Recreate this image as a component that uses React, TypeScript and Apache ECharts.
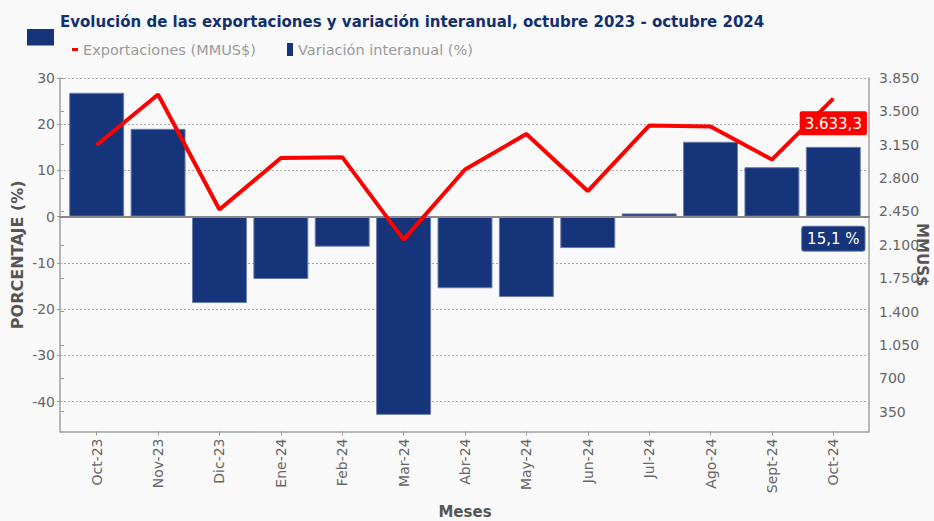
import React, { useEffect, useRef } from "react";
import * as echarts from "echarts";

const months = ["Oct-23", "Nov-23", "Dic-23", "Ene-24", "Feb-24", "Mar-24", "Abr-24", "May-24", "Jun-24", "Jul-24", "Ago-24", "Sept-24", "Oct-24"];
const variacion = [26.8, 19.0, -18.7, -13.5, -6.5, -42.9, -15.5, -17.4, -6.8, 0.7, 16.2, 10.7, 15.1];
const exportaciones = [3147, 3677, 2470, 3010, 3020, 2155, 2890, 3262, 2664, 3351, 3341, 2994, 3633.3];
const leftTicks = { min: -40, max: 30, interval: 10 };
const rightTicks = { min: 350, max: 3850, interval: 350 };

const FONT = "DejaVu Sans";
const NAVY = "#15347a";
const RED = "#ff0000";

function thousands(v: number): string {
  return String(Math.round(v)).replace(/\B(?=(\d{3})+(?!\d))/g, ".");
}
function esNumber(v: number): string {
  const [i, d] = v.toFixed(1).split(".");
  return i.replace(/\B(?=(\d{3})+(?!\d))/g, ".") + "," + d;
}

export default function App() {
  const ref = useRef<HTMLDivElement>(null);
  useEffect(() => {
    if (!ref.current) return;
    const chart = echarts.init(ref.current, null, { renderer: "svg" });
    const last = months.length - 1;
    const hiddenAxis = { show: false };
    const g = { outerBoundsMode: "none", containLabel: false };
    const option: any = {
      animation: false,
      backgroundColor: "#f9f9f9",
      textStyle: { fontFamily: FONT },
      title: {
        text: "Evolución de las exportaciones y variación interanual, octubre 2023 - octubre 2024",
        left: 60,
        top: 14,
        padding: 0,
        textStyle: { fontFamily: FONT, fontSize: 15, fontWeight: "bold", color: "#12306e" },
      },
      graphic: [
        { type: "rect", shape: { x: 27, y: 29, width: 27, height: 16.5 }, style: { fill: NAVY } },
      ],
      legend: [
        {
          data: ["Exportaciones (MMUS$)"],
          left: 72,
          top: 42,
          padding: 0,
          icon: "rect",
          itemWidth: 6,
          itemHeight: 3,
          selectedMode: false,
          itemStyle: { borderWidth: 0 },
          textStyle: { color: "#999", fontSize: 14.5, fontFamily: FONT },
        },
        {
          data: ["Variación interanual (%)"],
          left: 287,
          top: 42,
          padding: 0,
          icon: "rect",
          itemWidth: 6,
          itemHeight: 13,
          selectedMode: false,
          itemStyle: { borderWidth: 0 },
          textStyle: { color: "#999", fontSize: 14.5, fontFamily: FONT },
        },
      ],
      grid: [
        { left: 66, right: 70, top: 78, bottom: 89.5, ...g },
        { left: 60, right: 65, top: 78, bottom: 89.5, ...g },
        { left: 60, right: 65, top: 78, bottom: 119.3, ...g },
        { left: 60, right: 65, top: 78, bottom: 109.3, ...g },
      ],
      xAxis: [
        {
          gridIndex: 0,
          type: "category",
          data: months,
          boundaryGap: true,
          axisLine: { show: false, onZero: false },
          axisTick: { show: true, alignWithLabel: true, length: 4, lineStyle: { color: "#999" } },
          axisLabel: { rotate: 90, margin: 7, color: "#666", fontSize: 14, fontFamily: FONT },
          name: "Meses",
          nameLocation: "middle",
          nameGap: 73,
          nameTextStyle: { color: "#555", fontSize: 15, fontWeight: "bold", fontFamily: FONT },
        },
        {
          gridIndex: 1,
          type: "value",
          min: 0,
          max: 1,
          axisLine: { show: true, onZero: false, lineStyle: { color: "#a0a0a0", width: 1.5 } },
          axisTick: { show: false },
          axisLabel: { show: false },
          splitLine: { show: false },
        },
        {
          gridIndex: 2,
          type: "value",
          min: 0,
          max: 1,
          z: 5,
          axisLine: { show: true, onZero: true, lineStyle: { color: "#888", width: 2 } },
          axisTick: { show: false },
          axisLabel: { show: false },
          splitLine: { show: false },
        },
        { gridIndex: 3, type: "value", min: 0, max: 1, ...hiddenAxis },
      ],
      yAxis: [
        { gridIndex: 0, type: "value", min: -46.5, max: 30, ...hiddenAxis },
        { gridIndex: 0, type: "value", min: 142, max: 3850, position: "right", ...hiddenAxis },
        {
          gridIndex: 1,
          type: "value",
          min: 0,
          max: 1,
          position: "left",
          axisLine: { show: true, lineStyle: { color: "#a0a0a0", width: 1.5 } },
          axisTick: { show: false },
          axisLabel: { show: false },
          splitLine: { show: false },
          name: "PORCENTAJE (%)",
          nameLocation: "middle",
          nameGap: 35,
          nameRotate: 90,
          nameTextStyle: { color: "#555", fontSize: 16, fontWeight: "bold", fontFamily: FONT },
        },
        {
          gridIndex: 1,
          type: "value",
          min: 0,
          max: 1,
          position: "right",
          axisLine: { show: true, lineStyle: { color: "#a0a0a0", width: 1.5 } },
          axisTick: { show: false },
          axisLabel: { show: false },
          splitLine: { show: false },
          name: "MMUS$",
          nameLocation: "middle",
          nameGap: 45,
          nameRotate: -90,
          nameTextStyle: { color: "#555", fontSize: 15, fontWeight: "bold", fontFamily: FONT },
        },
        {
          gridIndex: 2,
          type: "value",
          min: leftTicks.min,
          max: leftTicks.max,
          interval: leftTicks.interval,
          position: "left",
          axisLine: { show: false },
          axisTick: { show: true, length: 3, lineStyle: { color: "#999" } },
          axisLabel: { margin: 5, color: "#666", fontSize: 14, fontFamily: FONT },
          splitLine: { show: true, lineStyle: { color: "#aaa", width: 1, type: [2, 2] } },
        },
        {
          gridIndex: 3,
          type: "value",
          min: rightTicks.min,
          max: rightTicks.max,
          interval: rightTicks.interval,
          position: "right",
          axisLine: { show: false },
          axisTick: { show: true, length: 4, lineStyle: { color: "#999" } },
          axisLabel: { margin: 10, color: "#666", fontSize: 14, fontFamily: FONT, formatter: (v: number) => thousands(v) },
          splitLine: { show: false },
        },
      ],
      series: [
        {
          name: "Variación interanual (%)",
          type: "bar",
          xAxisIndex: 0,
          yAxisIndex: 0,
          barCategoryGap: "10.5%",
          itemStyle: { color: NAVY, borderColor: "#6a7caa", borderWidth: 1 },
          z: 2,
          data: variacion.map((v, i) =>
            i === last
              ? {
                  value: v,
                  label: {
                    show: true,
                    position: "bottom",
                    distance: 10,
                    formatter: () => esNumber(v) + " %",
                    color: "#fff",
                    fontSize: 15,
                    fontFamily: FONT,
                    backgroundColor: NAVY,
                    borderColor: "#6a7caa",
                    borderWidth: 1,
                    borderRadius: 2,
                    padding: [5, 5, 4, 5],
                  },
                }
              : v
          ),
        },
        {
          name: "Exportaciones (MMUS$)",
          type: "line",
          xAxisIndex: 0,
          yAxisIndex: 1,
          z: 6,
          symbol: "circle",
          symbolSize: 1,
          showSymbol: true,
          lineStyle: { color: RED, width: 4 },
          itemStyle: { color: RED },
          data: exportaciones.map((v, i) =>
            i === last
              ? {
                  value: v,
                  label: {
                    show: true,
                    position: "bottom",
                    distance: 12,
                    formatter: () => esNumber(v),
                    color: "#fff",
                    fontSize: 15,
                    fontFamily: FONT,
                    backgroundColor: RED,
                    borderRadius: 2,
                    padding: [5, 5, 4, 5],
                  },
                }
              : v
          ),
        },
      ],
    };
    chart.setOption(option);
    return () => chart.dispose();
  }, []);
  return <div ref={ref} style={{ position: "absolute", left: 0, top: 0, width: 934, height: 521 }} />;
}
